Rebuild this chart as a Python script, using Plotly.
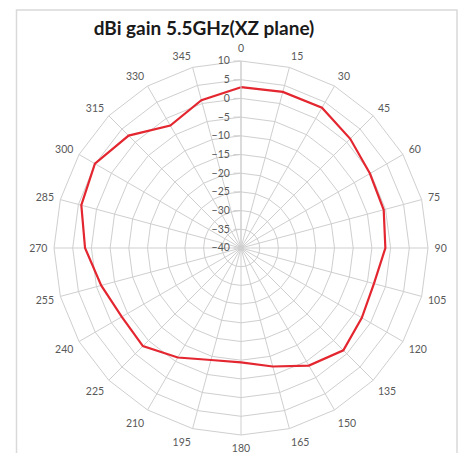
import plotly.graph_objects as go

angles = ["0", "15", "30", "45", "60", "75", "90", "105", "120", "135", "150", "165",
          "180", "195", "210", "225", "240", "255", "270", "285", "300", "315", "330", "345"]
gain = [3.0, 3.2, 3.3, 1.3, -0.2, -0.5, -1.4, -3.2, -2.7, -1.3, -3.7, -7.2,
        -9.4, -9.0, -6.2, -2.9, -3.2, -1.3, 1.7, 4.2, 5.1, 2.5, -2.2, 0.9]
title_text = "dBi gain 5.5GHz(XZ plane)"

grid = "#cfcfcf"
label_col = "#595959"

# the page body has an 8px margin; positions below are page pixels minus 8
OFF = 8
W, H = 466 - 2 * OFF, 461 - 2 * OFF
L, T, D = 54 - OFF, 61 - OFF, 374

fig = go.Figure()
fig.add_trace(go.Scatterpolar(
    r=gain + gain[:1],
    theta=angles + angles[:1],
    mode="lines",
    line=dict(color="#e3262f", width=2.2),
    showlegend=False,
    hoverinfo="skip",
))

fig.update_layout(
    width=W, height=H,
    margin=dict(l=L, r=W - L - D, t=T, b=H - T - D, pad=0),
    paper_bgcolor="white",
    plot_bgcolor="white",
    font=dict(family="Lato", color=label_col, size=10),
    title=dict(text="<b>" + title_text + "</b>", x=(204 - OFF) / W, xanchor="center",
               y=1 - (28 - OFF) / H, yanchor="middle",
               font=dict(family="Lato", size=19, color="#1a1a1a")),
    polar=dict(
        domain=dict(x=[0, 1], y=[0, 1]),
        bgcolor="white",
        gridshape="linear",
        angularaxis=dict(
            type="category",
            categoryorder="array",
            categoryarray=angles,
            direction="clockwise",
            rotation=90,
            showgrid=True,
            gridcolor=grid,
            gridwidth=1,
            showline=True,
            linecolor=grid,
            linewidth=1,
            ticks="outside",
            ticklen=4,
            tickcolor="rgba(0,0,0,0)",
            tickfont=dict(family="Lato", size=10.5, color=label_col),
        ),
        radialaxis=dict(
            range=[-40, 10],
            tick0=-40,
            dtick=5,
            angle=90,
            side="counterclockwise",
            showgrid=True,
            gridcolor=grid,
            gridwidth=1,
            showline=True,
            linecolor=grid,
            linewidth=1,
            ticks="outside",
            ticklen=7,
            tickcolor=grid,
            tickangle=90,
            tickfont=dict(family="Lato", size=10.5, color=label_col),
        ),
    ),
    shapes=[dict(
        type="rect", xref="paper", yref="paper",
        x0=(16.5 - OFF - L) / D, x1=(457 - OFF - L) / D,
        y0=(T + D - (475 - OFF)) / D, y1=(T + D - (10 - OFF)) / D,
        line=dict(color="#d9d9d9", width=1.5),
        fillcolor="rgba(0,0,0,0)",
        layer="below",
    )],
)

fig.write_html("out.html")
